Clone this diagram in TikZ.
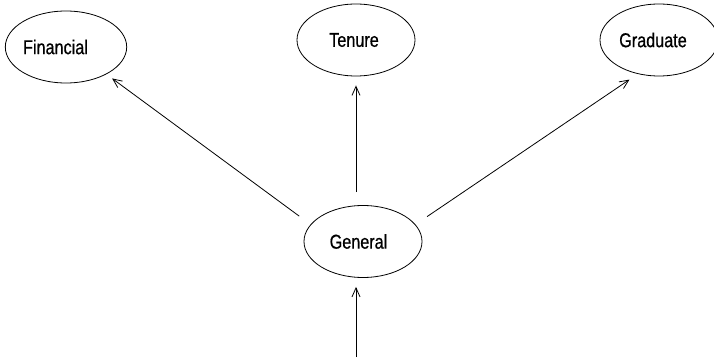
\documentclass[tikz,border=0pt]{standalone}
\usepackage{fontspec}
\newfontfamily\lblfont[FakeStretch=0.81,FakeBold=0.6]{Liberation Sans}
\usetikzlibrary{shapes.geometric,arrows.meta}
\begin{document}
\begin{tikzpicture}[x=1pt,y=-1pt,
  cls/.style={ellipse, draw, line width=0.8pt, inner sep=0pt,
    minimum width=118pt, minimum height=72pt,
    font=\lblfont\fontsize{20}{22}\selectfont},
  arr/.style={line width=0.8pt, -{Straight Barb[length=9pt,width=8pt]}}]
  \useasboundingbox (0,0) rectangle (714,358);

  % class nodes
  \node[cls] (financial) at (66,47)  {Financial\hspace*{21pt}};
  \node[cls] (tenure)    at (356,40) {Tenure\hspace*{4pt}};
  \node[cls] (graduate)  at (659,40) {Graduate\hspace*{12pt}};
  \node[cls] (general)   at (363,241.5) {General\hspace*{9pt}};

  % incoming edge from below
  \coordinate (entry) at (356,357);

  % edges
  \draw[arr, shorten <=14pt, shorten >=7pt] (general.162) -- (financial.-34.6);
  \draw[arr, shorten <=13pt, shorten >=9pt] (general.north -| tenure.south) -- (tenure.south);
  \draw[arr, shorten <=14pt, shorten >=10pt] (general.18.4) -- (graduate.238);
  \draw[arr, shorten >=9pt] (entry) -- (general.south -| entry);
\end{tikzpicture}
\end{document}
